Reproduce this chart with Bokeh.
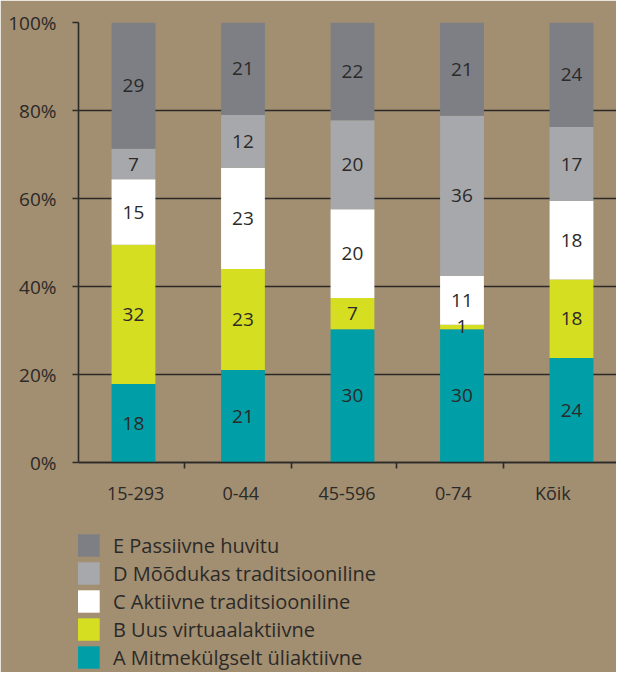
from bokeh.plotting import figure
from bokeh.models import ColumnDataSource, FixedTicker, PrintfTickFormatter, Legend, LegendItem
from bokeh.core.properties import value
from bokeh.embed import file_html
from bokeh.resources import INLINE

categories = ["15-293", "0-44", "45-596", "0-74", "Kõik"]
series_names = ["A Mitmekülgselt üliaktiivne", "B Uus virtuaalaktiivne",
                "C Aktiivne traditsiooniline", "D Mõõdukas traditsiooniline",
                "E Passiivne huvitu"]
A = [18, 21, 30, 30, 24]
B = [32, 23, 7, 1, 18]
C = [15, 23, 20, 11, 18]
D = [7, 12, 20, 36, 17]
E = [29, 21, 22, 21, 24]
y_ticks = [0, 20, 40, 60, 80, 100]

colors = ["#009ea6", "#d6de22", "#ffffff", "#a7a8ac", "#7d7f84"]
BG = "#a28e70"
INK = "#2b2a29"
FONT = "Open Sans"

series = [A, B, C, D, E]
x = [i + 1 for i in range(len(categories))]
totals = [sum(s[i] for s in series) for i in range(len(categories))]

# frame spans down to the bottom of the canvas so the legend can sit below the bars
p = figure(width=616, height=672, x_range=(0.498, 5.411), y_range=(-47.727, 100),
           output_backend="svg", toolbar_location=None,
           min_border_left=78, min_border_top=22, min_border_bottom=0,
           min_border_right=0)
p.background_fill_color = BG
p.border_fill_color = BG
p.outline_line_color = BG
p.outline_line_width = 2

renderers = []
bottom = [0.0] * len(categories)
lab_x, lab_y, lab_t = [], [], []
for s, c in zip(series, colors):
    pct = [v / t * 100 for v, t in zip(s, totals)]
    top = [b + q for b, q in zip(bottom, pct)]
    src = ColumnDataSource(dict(x=x, bottom=bottom, top=top))
    r = p.vbar(x="x", bottom="bottom", top="top", width=0.40, source=src,
               fill_color=c, line_color=None)
    renderers.append(r)
    for i in range(len(categories)):
        lab_x.append(x[i])
        lab_y.append((bottom[i] + top[i]) / 2)
        lab_t.append(str(s[i]))
    bottom = top

p.text(x=lab_x, y=lab_y, text=lab_t, text_align="center", text_baseline="middle",
       text_font=value(FONT), text_font_size="19px", text_color=INK)

# grid
p.xgrid.visible = False
p.ygrid.ticker = FixedTicker(ticks=y_ticks)
p.ygrid.grid_line_color = INK
p.ygrid.grid_line_width = 1.6

# y axis
p.yaxis.ticker = FixedTicker(ticks=y_ticks)
p.yaxis.bounds = (0, 100)
p.yaxis.formatter = PrintfTickFormatter(format="%d%%")
p.yaxis.axis_line_color = INK
p.yaxis.axis_line_width = 1.6
p.yaxis.major_tick_line_color = INK
p.yaxis.major_tick_line_width = 1.6
p.yaxis.major_tick_out = 6
p.yaxis.major_tick_in = 0
p.yaxis.minor_tick_line_color = None
p.yaxis.major_label_standoff = 16
p.yaxis.major_label_text_font = FONT
p.yaxis.major_label_text_font_size = "19px"
p.yaxis.major_label_text_color = INK

# x axis, pinned at 0%
label_pos = [1.02, 1.98, 2.95, 3.92, 4.83]
p.xaxis.fixed_location = 0
p.xaxis.ticker = FixedTicker(ticks=label_pos, minor_ticks=[1.466, 2.443, 3.40, 4.38])
p.xaxis.major_label_overrides = {pos: lab for pos, lab in zip(label_pos, categories)}
p.xaxis.axis_line_color = INK
p.xaxis.axis_line_width = 1.6
p.xaxis.major_tick_line_color = None
p.xaxis.major_tick_out = 0
p.xaxis.major_tick_in = 0
p.xaxis.minor_tick_line_color = INK
p.xaxis.minor_tick_line_width = 1.6
p.xaxis.minor_tick_out = 6
p.xaxis.minor_tick_in = 0
p.xaxis.major_label_standoff = 12
p.xaxis.major_label_text_font = FONT
p.xaxis.major_label_text_font_size = "18px"
p.xaxis.major_label_text_color = INK

items = [LegendItem(label=n, renderers=[r]) for n, r in zip(series_names, renderers)][::-1]
legend = Legend(items=items, location=(-4, 1), orientation="vertical",
                margin=0, padding=0, spacing=0,
                glyph_width=28, glyph_height=28, label_height=22,
                label_standoff=11,
                label_text_font=FONT, label_text_font_size="20px",
                label_text_color=INK,
                background_fill_alpha=0, border_line_color=None)
p.add_layout(legend, "center")

open("out.html", "w").write(file_html(p, INLINE))
